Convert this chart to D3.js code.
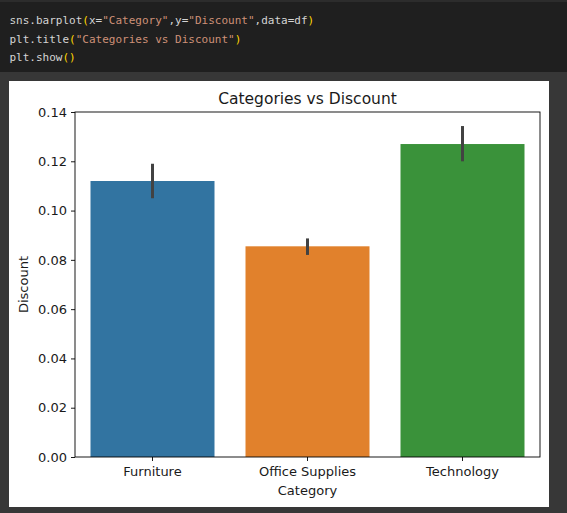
<!DOCTYPE html>
<html>
<head>
<meta charset="utf-8">
<script src="https://cdn.jsdelivr.net/npm/d3@7"></script>
<style>
    html, body { margin: 0; padding: 0; background: #373737; }
    svg { display: block; }
</style>
</head>
<body>
<div id="chart"></div>
<script>
// chart values
var categories = ["Furniture", "Office Supplies", "Technology"];
var discountMeans = [0.112, 0.0855, 0.127];
var ciLow = [0.105, 0.082, 0.120];
var ciHigh = [0.119, 0.0887, 0.1343];
var yTicks = [0.00, 0.02, 0.04, 0.06, 0.08, 0.10, 0.12, 0.14];
var barColors = ["#3274a1", "#e1812c", "#3a923a"];

// notebook cell source, split in colour tokens
var codeLines = [
    [["sns.barplot", "c"], ["(", "p"], ["x=", "c"], ["\"Category\"", "s"], [",y=", "c"],
     ["\"Discount\"", "s"], [",data=df", "c"], [")", "p"]],
    [["plt.title", "c"], ["(", "p"], ["\"Categories vs Discount\"", "s"], [")", "p"]],
    [["plt.show", "c"], ["()", "p"]]
];
var tokenColor = { c: "#d4d4d4", s: "#ce9178", p: "#ffd700" };

var W = 567, H = 513;
var svg = d3.select("#chart").append("svg")
    .attr("width", W)
    .attr("height", H);

// code cell
svg.append("rect")
    .attr("x", 0).attr("y", 0)
    .attr("width", W).attr("height", 72)
    .attr("fill", "#1f1f1f");
svg.append("rect")
    .attr("x", 0).attr("y", 0)
    .attr("width", W).attr("height", 2)
    .attr("fill", "#2c2c2c");

codeLines.forEach(function (line, i) {
    var t = svg.append("text")
        .attr("x", 9.5)
        .attr("y", 24 + i * 18.5)
        .attr("font-family", "'DejaVu Sans Mono', monospace")
        .attr("font-size", "11px")
        .attr("xml:space", "preserve");
    line.forEach(function (tok) {
        t.append("tspan")
            .attr("fill", tokenColor[tok[1]])
            .text(tok[0]);
    });
});

// output panel (the matplotlib figure)
svg.append("rect")
    .attr("x", 9).attr("y", 81)
    .attr("width", 540).attr("height", 426)
    .attr("fill", "#ffffff");

var margin = { left: 75, top: 112, right: 540, bottom: 457 };
var font = "'DejaVu Sans', sans-serif";

var x = d3.scaleBand()
    .domain(categories)
    .range([margin.left, margin.right])
    .paddingInner(0.2)
    .paddingOuter(0.1);

var y = d3.scaleLinear()
    .domain([0, 0.14])
    .range([margin.bottom, margin.top]);

var g = svg.append("g");

// bars
g.selectAll("rect.bar")
    .data(categories)
    .enter()
    .append("rect")
    .attr("class", "bar")
    .attr("x", function (d) { return x(d); })
    .attr("y", function (d, i) { return y(discountMeans[i]); })
    .attr("width", x.bandwidth())
    .attr("height", function (d, i) { return y(0) - y(discountMeans[i]); })
    .attr("fill", function (d, i) { return barColors[i]; });

// error bars
g.selectAll("line.err")
    .data(categories)
    .enter()
    .append("line")
    .attr("class", "err")
    .attr("x1", function (d) { return x(d) + x.bandwidth() / 2; })
    .attr("x2", function (d) { return x(d) + x.bandwidth() / 2; })
    .attr("y1", function (d, i) { return y(ciLow[i]); })
    .attr("y2", function (d, i) { return y(ciHigh[i]); })
    .attr("stroke", "#424242")
    .attr("stroke-width", 3);

// axes
var yAxis = d3.axisLeft(y)
    .tickValues(yTicks)
    .tickFormat(d3.format(".2f"))
    .tickSize(4)
    .tickPadding(4);

var xAxis = d3.axisBottom(x)
    .tickSize(4)
    .tickPadding(6);

var gy = svg.append("g")
    .attr("transform", "translate(" + margin.left + ",0)")
    .call(yAxis);
var gx = svg.append("g")
    .attr("transform", "translate(0," + margin.bottom + ")")
    .call(xAxis);

[gx, gy].forEach(function (a) {
    a.select(".domain").remove();
    a.selectAll("text")
        .attr("font-family", font)
        .attr("font-size", "13px")
        .attr("fill", "#1a1a1a");
    a.selectAll(".tick line").attr("stroke", "#000").attr("stroke-width", 0.9);
});

// frame (all four spines)
svg.append("rect")
    .attr("x", margin.left)
    .attr("y", margin.top)
    .attr("width", margin.right - margin.left)
    .attr("height", margin.bottom - margin.top)
    .attr("fill", "none")
    .attr("stroke", "#000")
    .attr("stroke-width", 0.9);

// title and labels
svg.append("text")
    .attr("x", (margin.left + margin.right) / 2)
    .attr("y", 104)
    .attr("text-anchor", "middle")
    .attr("font-family", font)
    .attr("font-size", "15.5px")
    .attr("fill", "#1a1a1a")
    .text("Categories vs Discount");

svg.append("text")
    .attr("x", (margin.left + margin.right) / 2)
    .attr("y", 495)
    .attr("text-anchor", "middle")
    .attr("font-family", font)
    .attr("font-size", "13px")
    .attr("fill", "#1a1a1a")
    .text("Category");

svg.append("text")
    .attr("transform", "translate(28," + ((margin.top + margin.bottom) / 2) + ") rotate(-90)")
    .attr("text-anchor", "middle")
    .attr("font-family", font)
    .attr("font-size", "13px")
    .attr("fill", "#1a1a1a")
    .text("Discount");
</script>
</body>
</html>
